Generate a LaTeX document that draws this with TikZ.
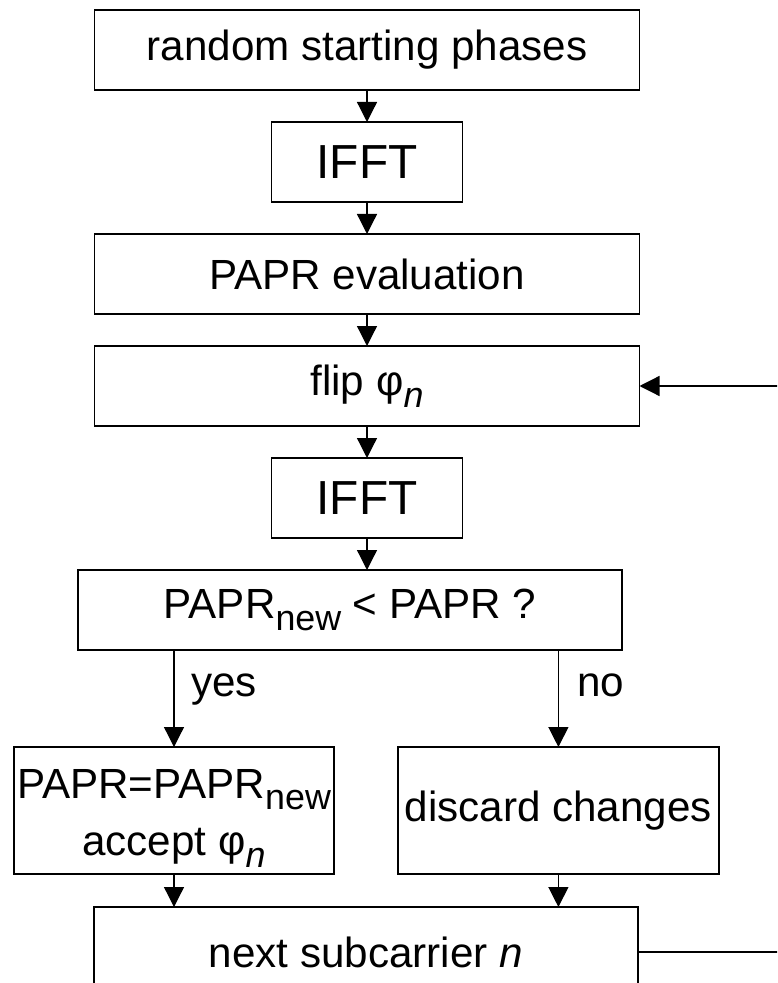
\documentclass[tikz,border=0pt]{standalone}
\usepackage{fontspec}
\setmainfont{Liberation Sans}
\usetikzlibrary{arrows.meta,positioning}

\newcommand{\lowsub}[1]{\raisebox{-0.28em}{\fontsize{25.5}{25.5}\selectfont #1}}

\begin{document}
\begin{tikzpicture}[
  box/.style={
    draw=black,
    line width=1.4pt,
    minimum width=13.625cm,
    minimum height=2cm,
    align=center,
    inner sep=0pt,
    outer sep=0pt,
    font=\fontsize{30}{37.7}\selectfont
  },
  small box/.style={box, minimum width=4.775cm, font=\fontsize{34}{40}\selectfont},
  branch box/.style={box, minimum width=8cm, minimum height=3.175cm},
  flow/.style={-{Triangle[length=0.5cm,width=0.5cm]}, line width=0.9pt},
  answer/.style={inner sep=0pt, anchor=base west, font=\fontsize{30}{37.7}\selectfont}
]
\useasboundingbox (0,0) rectangle (19.425,-24.575);
\clip (0,0) rectangle (19.425,-24.575);

\node[box] (start) at (9.175,-1.25) {random starting phases};
\node[small box, below=0.8cm of start] (ifft1) {IFFT};
\node[box, below=0.8cm of ifft1] (eval) {PAPR evaluation};
\node[box, below=0.8cm of eval] (flip) {flip φ\lowsub{\itshape n}};
\node[small box, below=0.8cm of flip] (ifft2) {IFFT};
\node[box, minimum width=13.6cm, below=0.8cm of ifft2, xshift=-0.425cm] (test) {PAPR\lowsub{new} < PAPR ?};

\draw[flow] (start) -- (ifft1);
\draw[flow] (ifft1) -- (eval);
\draw[flow] (eval) -- (flip);
\draw[flow] (flip) -- (ifft2);
\draw[flow] (ifft2.south) -- (ifft2.south |- test.north);

% branches
\node[branch box, anchor=north] (accept) at (4.35,-18.675) {\rule{0pt}{1.05em}PAPR=PAPR\lowsub{new}\\[3pt]accept φ\lowsub{\itshape n}};
\node[branch box, minimum width=8.025cm, anchor=north] (discard) at (13.96,-18.675) {discard changes};

\draw[flow] (test.south -| accept.north) -- (accept.north);
\draw[flow] (test.south -| discard.north) -- (discard.north);
\node[answer] (yes) at (4.775,-17.4) {yes};
\node[answer] (no) at (14.425,-17.4) {no};

\node[box, minimum width=13.6cm, minimum height=2.25cm, anchor=north] (next) at (9.15,-22.675) {next subcarrier \textit{n}};

\draw[flow] (accept.south) -- (accept.south |- next.north);
\draw[flow] (discard.south) -- (discard.south |- next.north);

% loop back to the flip step
\draw[flow] (next.east) -- ++(4cm,0) |- (flip.east);

\end{tikzpicture}
\end{document}
